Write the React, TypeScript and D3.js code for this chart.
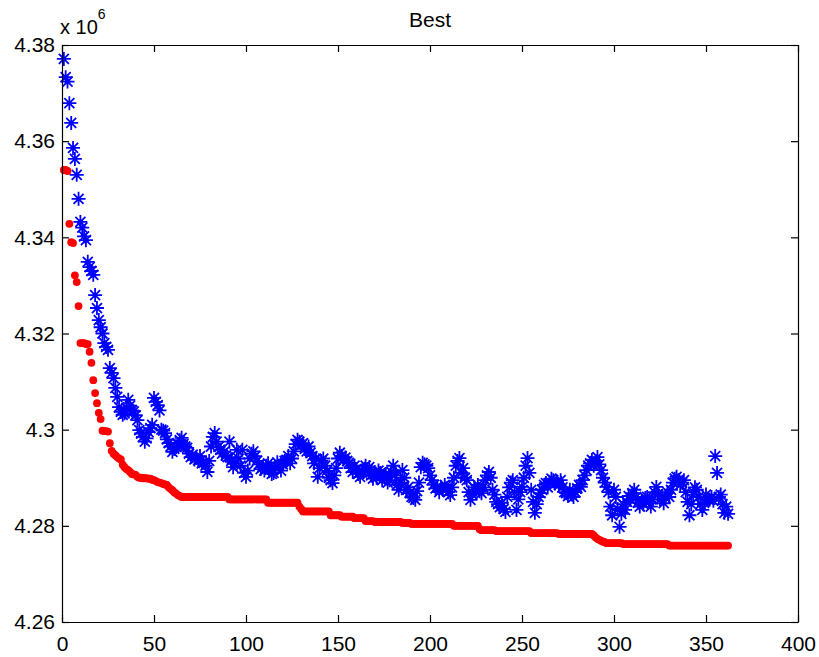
import React, { useEffect, useRef } from 'react';
import * as d3 from 'd3';

// values are in units of 10^6, one per iteration (iteration = index + 1)
const bestValues = [
  4.3540, 4.3540, 4.3538, 4.3428, 4.3390, 4.3388, 4.3321, 4.3307, 4.3257, 4.3180,
  4.3180, 4.3180, 4.3178, 4.3178, 4.3162, 4.3139, 4.3103, 4.3076, 4.3055, 4.3035,
  4.3022, 4.2998, 4.2997, 4.2997, 4.2996, 4.2972, 4.2956, 4.2950, 4.2947, 4.2943,
  4.2940, 4.2938, 4.2927, 4.2922, 4.2918, 4.2916, 4.2912, 4.2908, 4.2907, 4.2906,
  4.2902, 4.2900, 4.2900, 4.2899, 4.2899, 4.2899, 4.2898, 4.2898, 4.2896, 4.2895,
  4.2893, 4.2891, 4.2890, 4.2889, 4.2887, 4.2886, 4.2885, 4.2880, 4.2877, 4.2874,
  4.2870, 4.2867, 4.2864, 4.2862, 4.2860, 4.2860, 4.2860, 4.2860, 4.2860, 4.2860,
  4.2860, 4.2860, 4.2860, 4.2860, 4.2860, 4.2860, 4.2860, 4.2860, 4.2860, 4.2860,
  4.2860, 4.2860, 4.2860, 4.2860, 4.2860, 4.2860, 4.2860, 4.2860, 4.2860, 4.2860,
  4.2855, 4.2855, 4.2855, 4.2855, 4.2855, 4.2855, 4.2855, 4.2855, 4.2855, 4.2855,
  4.2855, 4.2855, 4.2855, 4.2855, 4.2855, 4.2855, 4.2855, 4.2855, 4.2855, 4.2855,
  4.2855, 4.2848, 4.2848, 4.2848, 4.2848, 4.2848, 4.2848, 4.2848, 4.2848, 4.2848,
  4.2848, 4.2848, 4.2848, 4.2848, 4.2848, 4.2848, 4.2848, 4.2848, 4.2840, 4.2835,
  4.2830, 4.2830, 4.2830, 4.2830, 4.2830, 4.2830, 4.2830, 4.2830, 4.2830, 4.2830,
  4.2830, 4.2830, 4.2830, 4.2830, 4.2830, 4.2822, 4.2822, 4.2822, 4.2822, 4.2822,
  4.2822, 4.2819, 4.2819, 4.2819, 4.2819, 4.2819, 4.2819, 4.2819, 4.2816, 4.2816,
  4.2816, 4.2816, 4.2816, 4.2816, 4.2810, 4.2810, 4.2810, 4.2810, 4.2810, 4.2808,
  4.2808, 4.2808, 4.2808, 4.2808, 4.2808, 4.2808, 4.2808, 4.2808, 4.2808, 4.2808,
  4.2808, 4.2808, 4.2808, 4.2808, 4.2806, 4.2806, 4.2806, 4.2806, 4.2806, 4.2804,
  4.2804, 4.2804, 4.2804, 4.2804, 4.2804, 4.2804, 4.2804, 4.2804, 4.2804, 4.2804,
  4.2804, 4.2804, 4.2804, 4.2804, 4.2804, 4.2804, 4.2804, 4.2804, 4.2804, 4.2804,
  4.2804, 4.2804, 4.2800, 4.2800, 4.2800, 4.2800, 4.2800, 4.2800, 4.2800, 4.2800,
  4.2800, 4.2800, 4.2800, 4.2800, 4.2800, 4.2800, 4.2793, 4.2791, 4.2791, 4.2791,
  4.2791, 4.2791, 4.2791, 4.2791, 4.2791, 4.2789, 4.2789, 4.2789, 4.2789, 4.2789,
  4.2789, 4.2789, 4.2789, 4.2789, 4.2789, 4.2789, 4.2789, 4.2789, 4.2789, 4.2789,
  4.2789, 4.2789, 4.2789, 4.2789, 4.2785, 4.2785, 4.2785, 4.2785, 4.2785, 4.2785,
  4.2785, 4.2785, 4.2785, 4.2785, 4.2785, 4.2785, 4.2785, 4.2785, 4.2785, 4.2783,
  4.2783, 4.2783, 4.2783, 4.2783, 4.2783, 4.2783, 4.2783, 4.2783, 4.2783, 4.2783,
  4.2783, 4.2783, 4.2783, 4.2783, 4.2783, 4.2783, 4.2783, 4.2783, 4.2780, 4.2776,
  4.2773, 4.2771, 4.2769, 4.2767, 4.2766, 4.2764, 4.2764, 4.2764, 4.2764, 4.2764,
  4.2764, 4.2764, 4.2764, 4.2764, 4.2762, 4.2762, 4.2762, 4.2762, 4.2762, 4.2762,
  4.2762, 4.2762, 4.2762, 4.2762, 4.2762, 4.2762, 4.2762, 4.2762, 4.2762, 4.2762,
  4.2762, 4.2762, 4.2762, 4.2762, 4.2762, 4.2762, 4.2762, 4.2762, 4.2762, 4.2759,
  4.2759, 4.2759, 4.2759, 4.2759, 4.2759, 4.2759, 4.2759, 4.2759, 4.2759, 4.2759,
  4.2759, 4.2759, 4.2759, 4.2759, 4.2759, 4.2759, 4.2759, 4.2759, 4.2759, 4.2759,
  4.2759, 4.2759, 4.2759, 4.2759, 4.2759, 4.2759, 4.2759, 4.2759, 4.2759, 4.2759,
  4.2759, 4.2759,
];

const currentValues = [
  4.3771, 4.3733, 4.3724, 4.3679, 4.3638, 4.3586, 4.3563, 4.3530, 4.3480, 4.3432,
  4.3420, 4.3402, 4.3394, 4.3349, 4.3338, 4.3330, 4.3322, 4.3280, 4.3253, 4.3228,
  4.3213, 4.3200, 4.3180, 4.3172, 4.3166, 4.3128, 4.3118, 4.3107, 4.3087, 4.3068,
  4.3047, 4.3037, 4.3031, 4.3034, 4.3045, 4.3062, 4.3050, 4.3040, 4.3038, 4.3030,
  4.3020, 4.2999, 4.2992, 4.2985, 4.2975, 4.2982, 4.2995, 4.3003, 4.3010, 4.3066,
  4.3058, 4.3051, 4.3040, 4.3000, 4.2998, 4.2993, 4.2980, 4.2972, 4.2965, 4.2954,
  4.2960, 4.2964, 4.2970, 4.2978, 4.2983, 4.2970, 4.2965, 4.2962, 4.2950, 4.2943,
  4.2948, 4.2938, 4.2941, 4.2936, 4.2945, 4.2930, 4.2931, 4.2925, 4.2912, 4.2935,
  4.2965, 4.2985, 4.2993, 4.2975, 4.2964, 4.2958, 4.2950, 4.2954, 4.2946, 4.2943,
  4.2975, 4.2935, 4.2922, 4.2930, 4.2958, 4.2940, 4.2925, 4.2958, 4.2910, 4.2902,
  4.2915, 4.2940, 4.2950, 4.2955, 4.2945, 4.2935, 4.2928, 4.2918, 4.2922, 4.2915,
  4.2925, 4.2930, 4.2918, 4.2908, 4.2910, 4.2920, 4.2932, 4.2925, 4.2915, 4.2928,
  4.2935, 4.2937, 4.2945, 4.2930, 4.2940, 4.2955, 4.2970, 4.2979, 4.2975, 4.2968,
  4.2972, 4.2960, 4.2955, 4.2965, 4.2952, 4.2945, 4.2930, 4.2940, 4.2902, 4.2920,
  4.2935, 4.2940, 4.2925, 4.2915, 4.2900, 4.2895, 4.2889, 4.2905, 4.2920, 4.2940,
  4.2952, 4.2945, 4.2938, 4.2942, 4.2935, 4.2931, 4.2920, 4.2912, 4.2925, 4.2918,
  4.2908, 4.2902, 4.2915, 4.2912, 4.2925, 4.2918, 4.2922, 4.2905, 4.2898, 4.2912,
  4.2900, 4.2915, 4.2910, 4.2895, 4.2902, 4.2908, 4.2890, 4.2895, 4.2912, 4.2925,
  4.2905, 4.2885, 4.2875, 4.2890, 4.2916, 4.2900, 4.2875, 4.2880, 4.2868, 4.2860,
  4.2858, 4.2854, 4.2872, 4.2890, 4.2922, 4.2931, 4.2928, 4.2925, 4.2920, 4.2905,
  4.2895, 4.2885, 4.2878, 4.2881, 4.2870, 4.2880, 4.2875, 4.2885, 4.2878, 4.2870,
  4.2864, 4.2880, 4.2900, 4.2925, 4.2935, 4.2941, 4.2910, 4.2920, 4.2900, 4.2895,
  4.2870, 4.2854, 4.2865, 4.2880, 4.2875, 4.2885, 4.2872, 4.2868, 4.2880, 4.2895,
  4.2905, 4.2912, 4.2900, 4.2875, 4.2865, 4.2850, 4.2845, 4.2839, 4.2848, 4.2835,
  4.2829, 4.2860, 4.2880, 4.2890, 4.2895, 4.2870, 4.2833, 4.2855, 4.2870, 4.2881,
  4.2900, 4.2925, 4.2941, 4.2910, 4.2875, 4.2850, 4.2827, 4.2845, 4.2860, 4.2868,
  4.2875, 4.2885, 4.2889, 4.2880, 4.2890, 4.2898, 4.2895, 4.2888, 4.2892, 4.2885,
  4.2895, 4.2880, 4.2870, 4.2868, 4.2862, 4.2875, 4.2865, 4.2860, 4.2870, 4.2878,
  4.2885, 4.2881, 4.2895, 4.2905, 4.2916, 4.2925, 4.2930, 4.2937, 4.2925, 4.2935,
  4.2943, 4.2928, 4.2916, 4.2900, 4.2890, 4.2881, 4.2870, 4.2840, 4.2822, 4.2875,
  4.2860, 4.2835, 4.2798, 4.2825, 4.2845, 4.2833, 4.2850, 4.2862, 4.2854, 4.2868,
  4.2875, 4.2860, 4.2848, 4.2840, 4.2852, 4.2845, 4.2858, 4.2860, 4.2850, 4.2840,
  4.2855, 4.2870, 4.2881, 4.2865, 4.2855, 4.2862, 4.2847, 4.2858, 4.2870, 4.2860,
  4.2875, 4.2890, 4.2898, 4.2902, 4.2895, 4.2885, 4.2890, 4.2895, 4.2870, 4.2850,
  4.2822, 4.2845, 4.2865, 4.2880, 4.2875, 4.2860, 4.2845, 4.2833, 4.2848, 4.2865,
  4.2855, 4.2854, 4.2860, 4.2852, 4.2945, 4.2910, 4.2860, 4.2865, 4.2845, 4.2827,
  4.2840, 4.2825,
];

const xTicks = [0, 50, 100, 150, 200, 250, 300, 350, 400];
const yTicks = [4.26, 4.28, 4.30, 4.32, 4.34, 4.36, 4.38];

const App = () => {
  const svgRef = useRef<SVGSVGElement>(null);

  useEffect(() => {
    const W = 819;
    const H = 657;
    const margin = { top: 45, right: 21, bottom: 35, left: 62 };
    const font = 'Liberation Sans, Arial, Helvetica, sans-serif';

    const x = d3.scaleLinear().domain([0, 400]).range([margin.left, W - margin.right]);
    const y = d3.scaleLinear().domain([4.26, 4.38]).range([H - margin.bottom, margin.top]);

    const svg = d3.select(svgRef.current);
    svg.selectAll('*').remove();

    svg.append('rect').attr('width', W).attr('height', H).attr('fill', '#fff');

    // markers: blue stars first, red dots on top
    const star = 'M-7,0H7M0,-7V7M-5,-5L5,5M-5,5L5,-5';
    svg.append('g')
      .selectAll('path')
      .data(currentValues)
      .join('path')
      .attr('transform', (d, i) => `translate(${x(i + 1)},${y(d)})`)
      .attr('d', star)
      .attr('fill', 'none')
      .attr('stroke', '#0000ff')
      .attr('stroke-width', 1.8);

    svg.append('g')
      .selectAll('circle')
      .data(bestValues)
      .join('circle')
      .attr('cx', (d, i) => x(i + 1))
      .attr('cy', (d) => y(d))
      .attr('r', 3.9)
      .attr('fill', '#ff0000');

    const fmtY = (d) => String(+(+d).toFixed(2));

    const bottom = svg.append('g')
      .attr('transform', `translate(0,${H - margin.bottom})`)
      .call(d3.axisBottom(x).tickValues(xTicks).tickSize(-7).tickSizeOuter(0).tickPadding(14));
    const left = svg.append('g')
      .attr('transform', `translate(${margin.left},0)`)
      .call(d3.axisLeft(y).tickValues(yTicks).tickFormat(fmtY).tickSize(-7).tickSizeOuter(0).tickPadding(7));
    const top = svg.append('g')
      .attr('transform', `translate(0,${margin.top})`)
      .call(d3.axisTop(x).tickValues(xTicks).tickFormat(() => '').tickSize(-7).tickSizeOuter(0));
    const right = svg.append('g')
      .attr('transform', `translate(${W - margin.right},0)`)
      .call(d3.axisRight(y).tickValues(yTicks).tickFormat(() => '').tickSize(-7).tickSizeOuter(0));

    [bottom, left, top, right].forEach((g) => {
      g.selectAll('path.domain').attr('stroke', '#000').attr('stroke-width', 1.2);
      g.selectAll('line').attr('stroke', '#000').attr('stroke-width', 1.2);
      g.selectAll('text').attr('fill', '#000').style('font-family', font).style('font-size', '21px');
    });

    svg.append('text')
      .attr('x', (x(0) + x(400)) / 2)
      .attr('y', 27)
      .attr('text-anchor', 'middle')
      .style('font-family', font)
      .style('font-size', '21px')
      .text('Best');

    const exp = svg.append('text')
      .attr('x', 60)
      .attr('y', 34)
      .style('font-family', font)
      .style('font-size', '20px');
    exp.append('tspan').text('x 10');
    exp.append('tspan').attr('dy', -15).style('font-size', '14px').text('6');
  }, []);

  return (
    <svg
      ref={svgRef}
      width={819}
      height={657}
      style={{ position: 'absolute', left: 0, top: 0, display: 'block' }}
    ></svg>
  );
};

export default App;
